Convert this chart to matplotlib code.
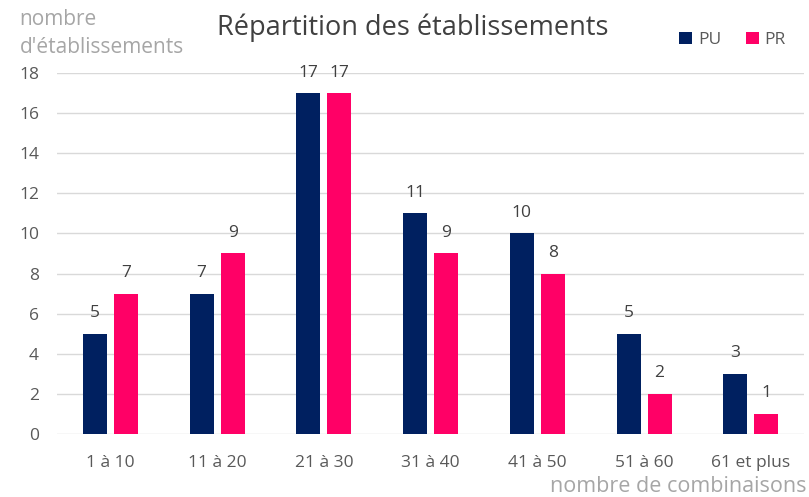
import numpy as np
import matplotlib
matplotlib.use('Agg')
import matplotlib.pyplot as plt

plt.rcParams['font.family'] = ['Open Sans', 'DejaVu Sans']

categories = ['1 à 10', '11 à 20', '21 à 30', '31 à 40', '41 à 50', '51 à 60', '61 et plus']
pu_values = [5, 7, 17, 11, 10, 5, 3]
pr_values = [7, 9, 17, 9, 8, 2, 1]

navy = '#002060'
pink = '#FF0066'

fig = plt.figure(figsize=(8.09, 4.97), dpi=100)
ax = fig.add_axes([0.0705, 0.1268, 0.9235, 0.7263])

x = np.arange(len(categories))
width = 0.225
off = 0.145
b1 = ax.bar(x - off, pu_values, width, color=navy, label='PU', zorder=3)
b2 = ax.bar(x + off, pr_values, width, color=pink, label='PR', zorder=3)
for bars in (b1, b2):
    ax.bar_label(bars, padding=9, fontsize=12.5, color='#404040')

ax.set_xlim(-0.5, len(categories) - 0.5)
ax.set_ylim(0, 18)
ax.set_yticks(range(0, 19, 2))
ax.set_xticks(x, categories)
ax.grid(axis='y', color='#d9d9d9', linewidth=1, zorder=0)
for s in ax.spines.values():
    s.set_visible(False)
ax.tick_params(length=0, labelsize=12.5, colors='#595959')
ax.tick_params(axis='x', pad=15)
ax.tick_params(axis='y', pad=13)

fig.text(0.51, 0.944, 'Répartition des établissements', ha='center', va='center',
         fontsize=19.5, color='#404040')
fig.text(0.024, 0.96, 'nombre', ha='left', va='center', fontsize=15, color='#a6a6a6')
fig.text(0.024, 0.905, "d'établissements", ha='left', va='center', fontsize=15, color='#a6a6a6')
fig.text(0.997, 0.022, 'nombre de combinaisons', ha='right', va='center',
         fontsize=15.5, color='#a6a6a6')

ax.legend(loc='center right', bbox_to_anchor=(0.985, 1.092), ncol=2, frameon=False,
          fontsize=12.5, labelcolor='#595959', handlelength=0.75, handleheight=0.75,
          handletextpad=0.35, columnspacing=1.4, borderaxespad=0)

fig.savefig('out.png', dpi=100)
